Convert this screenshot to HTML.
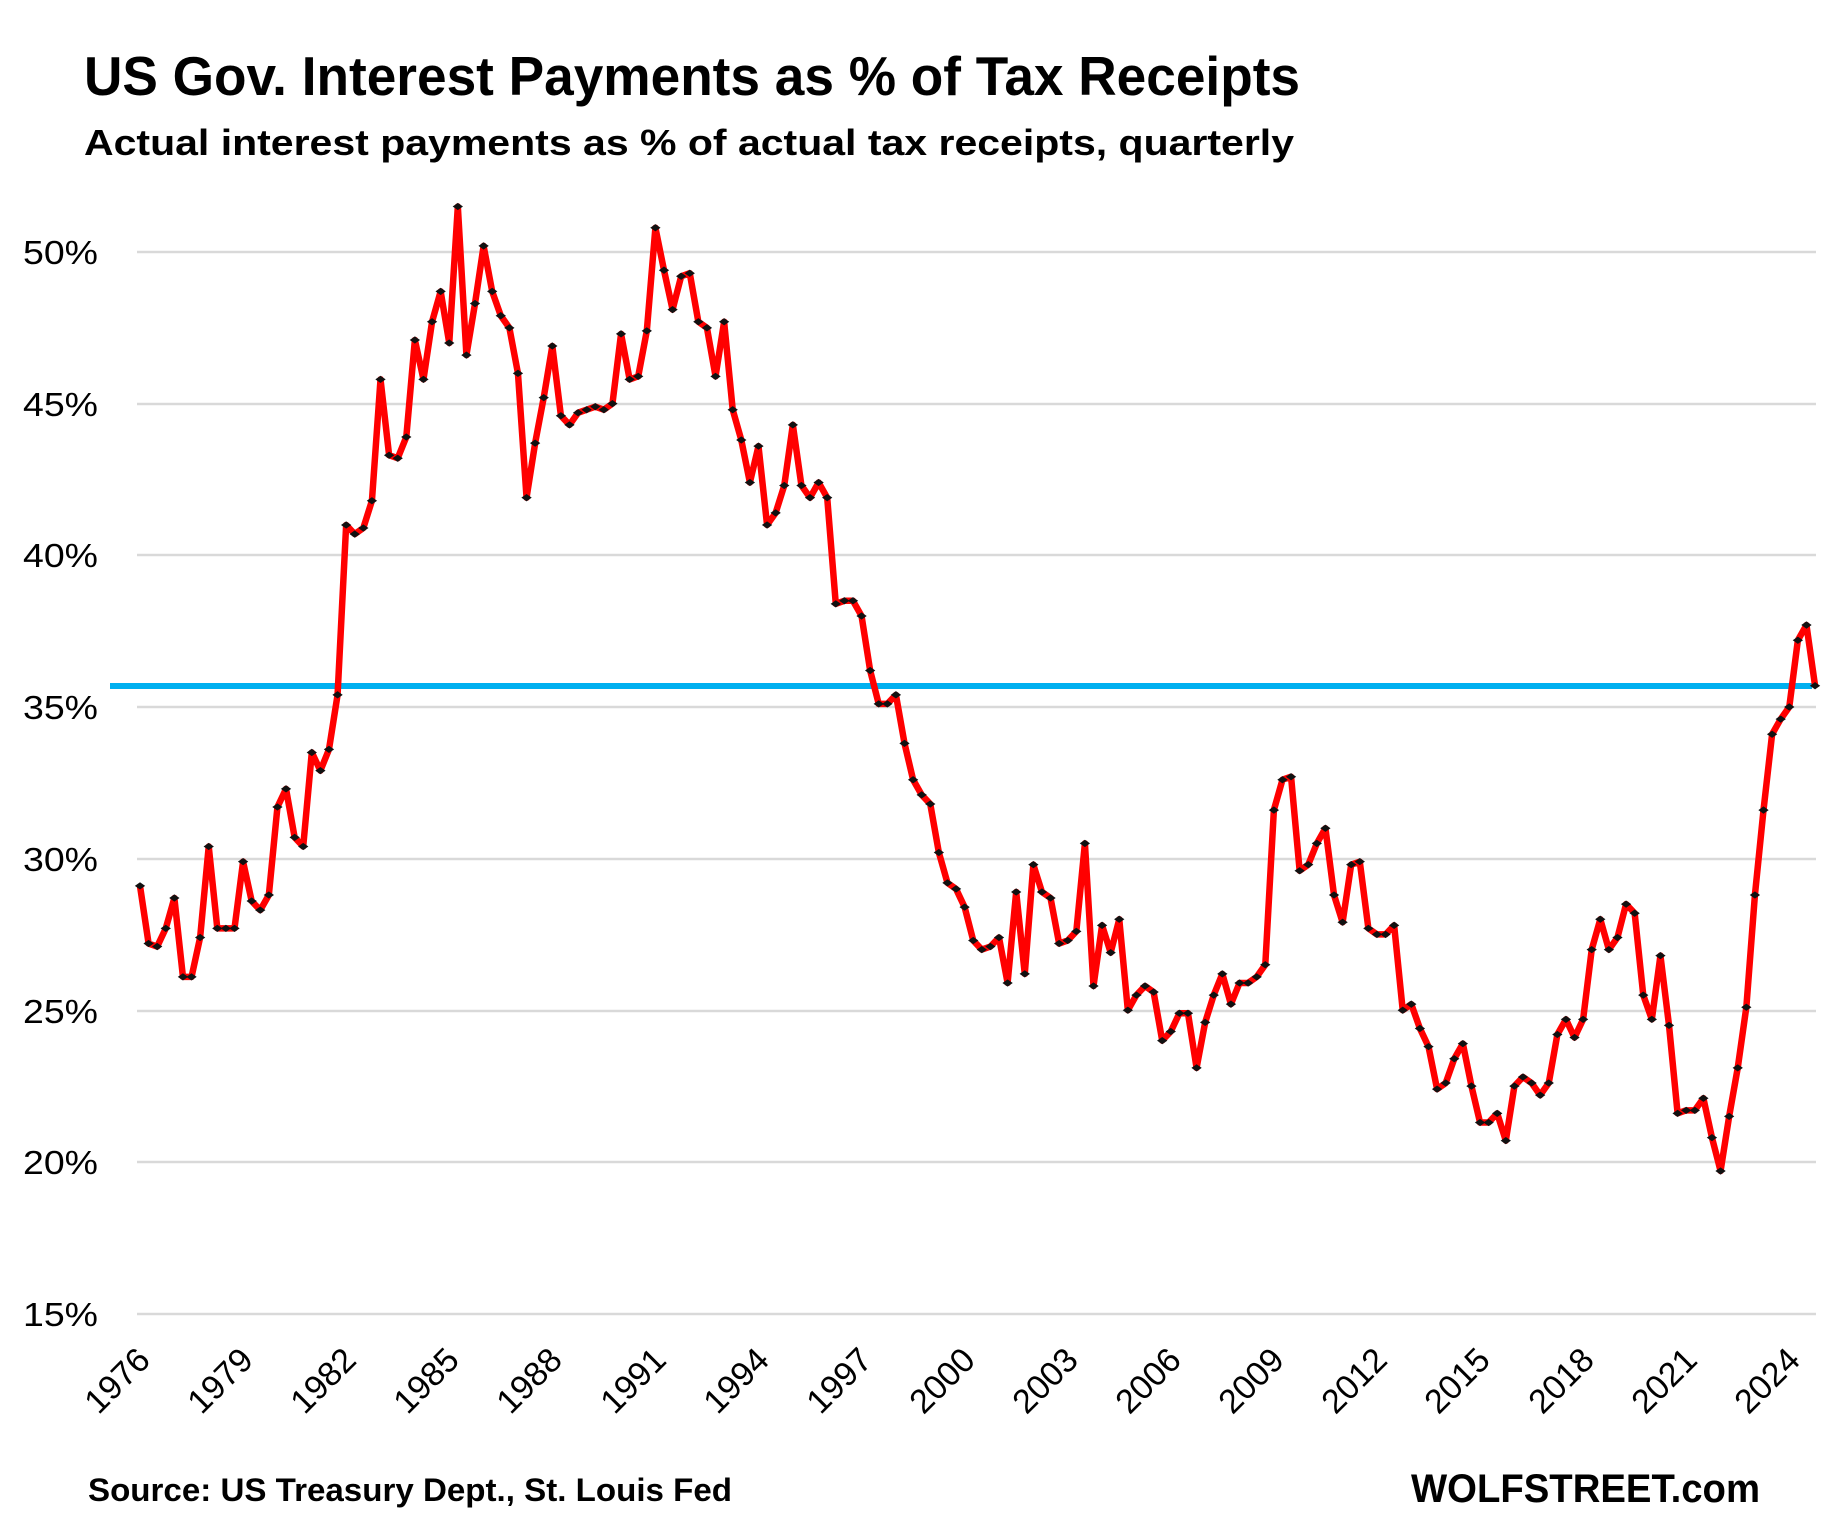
<!DOCTYPE html>
<html><head><meta charset="utf-8"><style>html,body{margin:0;padding:0;background:#fff}svg{display:block}</style></head>
<body>
<svg width="1836" height="1539" viewBox="0 0 1836 1539" xmlns="http://www.w3.org/2000/svg" font-family="Liberation Sans, sans-serif">
<rect width="1836" height="1539" fill="#fff"/>
<text x="84" y="95" font-size="55" font-weight="bold" textLength="1216" lengthAdjust="spacingAndGlyphs">US Gov. Interest Payments as % of Tax Receipts</text>
<text x="84" y="155" font-size="36" font-weight="bold" textLength="1210" lengthAdjust="spacingAndGlyphs">Actual interest payments as % of actual tax receipts, quarterly</text>
<g stroke="#d9d9d9" stroke-width="2.5">
<line x1="137" x2="1816" y1="252" y2="252"/><line x1="137" x2="1816" y1="404" y2="404"/><line x1="137" x2="1816" y1="555" y2="555"/><line x1="137" x2="1816" y1="707" y2="707"/><line x1="137" x2="1816" y1="859" y2="859"/><line x1="137" x2="1816" y1="1011" y2="1011"/><line x1="137" x2="1816" y1="1162" y2="1162"/><line x1="137" x2="1816" y1="1314" y2="1314"/>
</g>
<g font-size="33" text-anchor="end" fill="#000">
<text x="98" y="264" textLength="75" lengthAdjust="spacingAndGlyphs">50%</text>
<text x="98" y="416" textLength="75" lengthAdjust="spacingAndGlyphs">45%</text>
<text x="98" y="567" textLength="75" lengthAdjust="spacingAndGlyphs">40%</text>
<text x="98" y="719" textLength="75" lengthAdjust="spacingAndGlyphs">35%</text>
<text x="98" y="871" textLength="75" lengthAdjust="spacingAndGlyphs">30%</text>
<text x="98" y="1023" textLength="75" lengthAdjust="spacingAndGlyphs">25%</text>
<text x="98" y="1174" textLength="75" lengthAdjust="spacingAndGlyphs">20%</text>
<text x="98" y="1326" textLength="75" lengthAdjust="spacingAndGlyphs">15%</text>
</g>
<line x1="110" x2="1812" y1="686" y2="686" stroke="#00b0f0" stroke-width="6"/>
<defs>
<marker id="d" markerUnits="userSpaceOnUse" viewBox="-0.6 -0.12 1.2 0.24" refX="0" refY="0" markerWidth="1.2" markerHeight="0.24" orient="0" overflow="visible">
<path d="M-0.6,0 L0,0.12 L0.6,0 L0,-0.12 Z" fill="#111"/>
</marker>
</defs>
<g transform="translate(140,1768.5) scale(8.59,-30.33)">
<polyline fill="none" stroke="#ff0000" stroke-width="6.5" vector-effect="non-scaling-stroke" stroke-linejoin="round" marker-start="url(#d)" marker-mid="url(#d)" marker-end="url(#d)" points="0,29.1 1,27.2 2,27.1 3,27.7 4,28.7 5,26.1 6,26.1 7,27.4 8,30.4 9,27.7 10,27.7 11,27.7 12,29.9 13,28.6 14,28.3 15,28.8 16,31.7 17,32.3 18,30.7 19,30.4 20,33.5 21,32.9 22,33.6 23,35.4 24,41.0 25,40.7 26,40.9 27,41.8 28,45.8 29,43.3 30,43.2 31,43.9 32,47.1 33,45.8 34,47.7 35,48.7 36,47.0 37,51.5 38,46.6 39,48.3 40,50.2 41,48.7 42,47.9 43,47.5 44,46.0 45,41.9 46,43.7 47,45.2 48,46.9 49,44.6 50,44.3 51,44.7 52,44.8 53,44.9 54,44.8 55,45.0 56,47.3 57,45.8 58,45.9 59,47.4 60,50.8 61,49.4 62,48.1 63,49.2 64,49.3 65,47.7 66,47.5 67,45.9 68,47.7 69,44.8 70,43.8 71,42.4 72,43.6 73,41.0 74,41.4 75,42.3 76,44.3 77,42.3 78,41.9 79,42.4 80,41.9 81,38.4 82,38.5 83,38.5 84,38.0 85,36.2 86,35.1 87,35.1 88,35.4 89,33.8 90,32.6 91,32.1 92,31.8 93,30.2 94,29.2 95,29.0 96,28.4 97,27.3 98,27.0 99,27.1 100,27.4 101,25.9 102,28.9 103,26.2 104,29.8 105,28.9 106,28.7 107,27.2 108,27.3 109,27.6 110,30.5 111,25.8 112,27.8 113,26.9 114,28.0 115,25.0 116,25.5 117,25.8 118,25.6 119,24.0 120,24.3 121,24.9 122,24.9 123,23.1 124,24.6 125,25.5 126,26.2 127,25.2 128,25.9 129,25.9 130,26.1 131,26.5 132,31.6 133,32.6 134,32.7 135,29.6 136,29.8 137,30.5 138,31.0 139,28.8 140,27.9 141,29.8 142,29.9 143,27.7 144,27.5 145,27.5 146,27.8 147,25.0 148,25.2 149,24.4 150,23.8 151,22.4 152,22.6 153,23.4 154,23.9 155,22.5 156,21.3 157,21.3 158,21.6 159,20.7 160,22.5 161,22.8 162,22.6 163,22.2 164,22.6 165,24.2 166,24.7 167,24.1 168,24.7 169,27.0 170,28.0 171,27.0 172,27.4 173,28.5 174,28.2 175,25.5 176,24.7 177,26.8 178,24.5 179,21.6 180,21.7 181,21.7 182,22.1 183,20.8 184,19.7 185,21.5 186,23.1 187,25.1 188,28.8 189,31.6 190,34.1 191,34.6 192,35.0 193,37.2 194,37.7 195,35.7"/>
</g>
<g font-size="34" text-anchor="end" fill="#000">
<text transform="translate(152,1362) rotate(-45)">1976</text>
<text transform="translate(255,1362) rotate(-45)">1979</text>
<text transform="translate(358,1362) rotate(-45)">1982</text>
<text transform="translate(461,1362) rotate(-45)">1985</text>
<text transform="translate(564,1362) rotate(-45)">1988</text>
<text transform="translate(668,1362) rotate(-45)">1991</text>
<text transform="translate(771,1362) rotate(-45)">1994</text>
<text transform="translate(874,1362) rotate(-45)">1997</text>
<text transform="translate(977,1362) rotate(-45)">2000</text>
<text transform="translate(1080,1362) rotate(-45)">2003</text>
<text transform="translate(1183,1362) rotate(-45)">2006</text>
<text transform="translate(1286,1362) rotate(-45)">2009</text>
<text transform="translate(1389,1362) rotate(-45)">2012</text>
<text transform="translate(1492,1362) rotate(-45)">2015</text>
<text transform="translate(1596,1362) rotate(-45)">2018</text>
<text transform="translate(1699,1362) rotate(-45)">2021</text>
<text transform="translate(1802,1362) rotate(-45)">2024</text>
</g>
<text x="88" y="1501" font-size="32" font-weight="bold" textLength="644" lengthAdjust="spacingAndGlyphs">Source: US Treasury Dept., St. Louis Fed</text>
<text x="1411" y="1502" font-size="40" font-weight="bold" textLength="349" lengthAdjust="spacingAndGlyphs">WOLFSTREET.com</text>
</svg>
</body></html>
